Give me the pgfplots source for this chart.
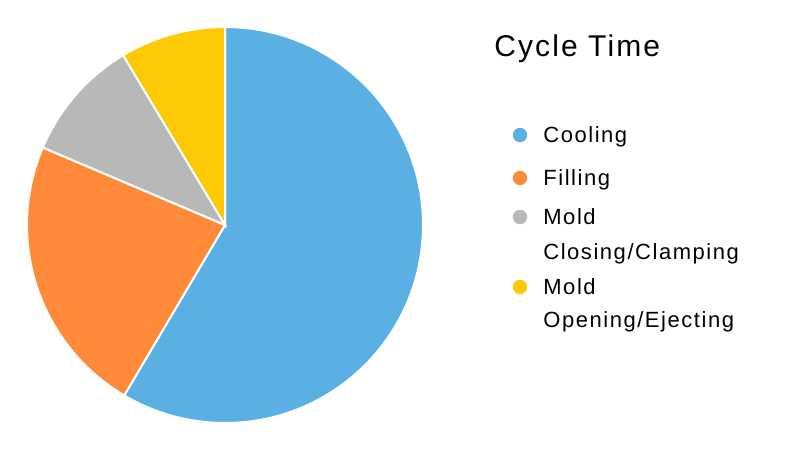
\documentclass[border=0pt]{standalone}
\usepackage{pgfplots}
\usepackage{pgfplotstable}
\usepackage{fontspec}
\setmainfont{Liberation Sans}[LetterSpace=7]
\pgfplotsset{compat=1.18}

\definecolor{cblue}{RGB}{90,176,226}
\definecolor{corange}{RGB}{255,138,58}
\definecolor{cgray}{RGB}{184,184,184}
\definecolor{cyellow}{RGB}{255,201,5}

% share of cycle time, percent
\pgfplotstableread{
label value
Cooling 58.5
Filling 22.9
Closing 10.0
Opening 8.6
}\cycletable

\begin{document}
\begin{tikzpicture}
% cumulative angles, clockwise from 12 o'clock
\pgfplotstablegetelem{0}{value}\of\cycletable \let\vA\pgfplotsretval
\pgfplotstablegetelem{1}{value}\of\cycletable \let\vB\pgfplotsretval
\pgfplotstablegetelem{2}{value}\of\cycletable \let\vC\pgfplotsretval
\pgfplotstablegetelem{3}{value}\of\cycletable \let\vD\pgfplotsretval
\pgfmathsetmacro\aA{90}
\pgfmathsetmacro\aB{\aA-3.6*\vA}
\pgfmathsetmacro\aC{\aB-3.6*\vB}
\pgfmathsetmacro\aD{\aC-3.6*\vC}
\pgfmathsetmacro\aE{\aD-3.6*\vD}
\def\R{99pt}

\begin{axis}[
  scale only axis,
  width=400pt, height=225pt,
  xmin=0, xmax=800, ymin=0, ymax=450,
  hide axis,
  clip=false,
]
\path (axis cs:0,0) rectangle (axis cs:800,450);

\fill[cblue, draw=white, line width=1pt] (axis cs:225,225) -- ++(\aA:\R) arc[start angle=\aA, end angle=\aB, radius=\R] -- cycle;
\fill[corange, draw=white, line width=1pt] (axis cs:225,225) -- ++(\aB:\R) arc[start angle=\aB, end angle=\aC, radius=\R] -- cycle;
\fill[cgray, draw=white, line width=1pt] (axis cs:225,225) -- ++(\aC:\R) arc[start angle=\aC, end angle=\aD, radius=\R] -- cycle;
\fill[cyellow, draw=white, line width=1pt] (axis cs:225,225) -- ++(\aD:\R) arc[start angle=\aD, end angle=\aE, radius=\R] -- cycle;

% title
\node[anchor=base west, inner sep=0, font=\fontsize{15}{18}\selectfont] at (axis cs:494,393) {Cycle Time};

% legend
\fill[cblue] (axis cs:520,315) circle[radius=3.6pt];
\fill[corange] (axis cs:520,272) circle[radius=3.6pt];
\fill[cgray] (axis cs:520,233) circle[radius=3.6pt];
\fill[cyellow] (axis cs:520,163) circle[radius=3.6pt];
\begin{scope}[every node/.style={anchor=base west, inner sep=0, font=\fontsize{11}{13}\selectfont}]
\node at (axis cs:543,307) {Cooling};
\node at (axis cs:543,264) {Filling};
\node at (axis cs:543,225) {Mold};
\node at (axis cs:543,190) {Closing/Clamping};
\node at (axis cs:543,155) {Mold};
\node at (axis cs:543,122) {Opening/Ejecting};
\end{scope}
\end{axis}
\end{tikzpicture}
\end{document}
